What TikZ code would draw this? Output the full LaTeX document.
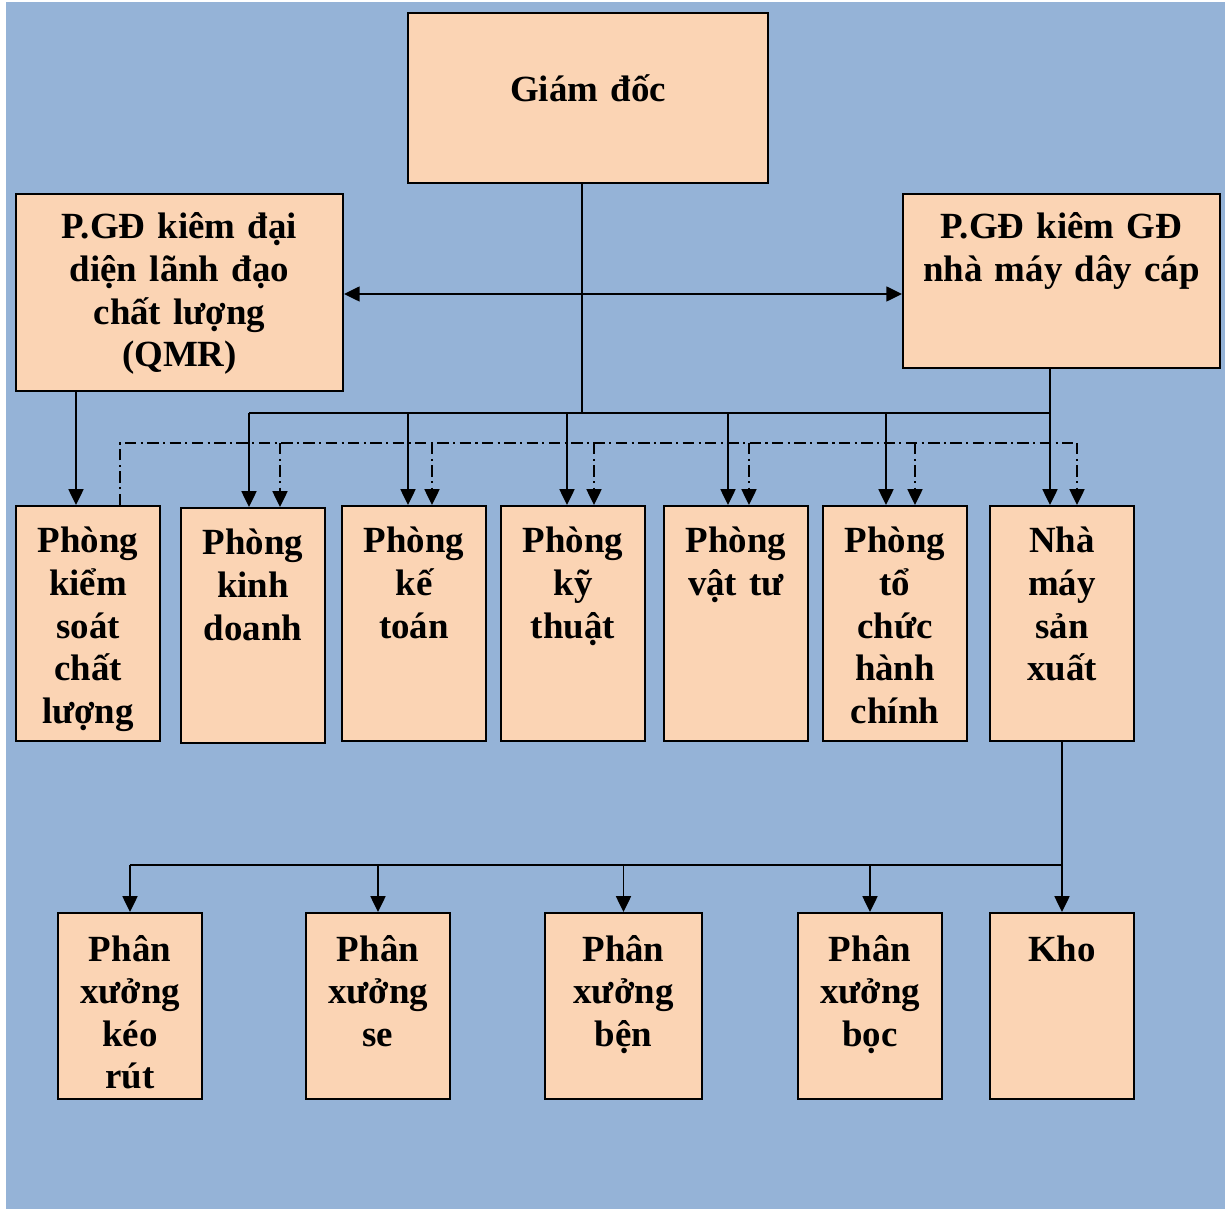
\documentclass[tikz,border=0pt]{standalone}
\usepackage{fontspec}
\setmainfont{Liberation Serif}
\usetikzlibrary{arrows.meta}
\definecolor{bgblue}{RGB}{149,179,215}
\definecolor{peach}{RGB}{251,212,180}

\begin{document}
\begin{tikzpicture}[x=0.02cm, y=-0.02cm,
    box/.style={draw, line width=1.1pt, fill=peach, inner sep=0pt, anchor=base, align=center,
        font=\bfseries\fontsize{21}{24.2}\selectfont},
    room/.style={box, text width=2.88cm, text height=0.94cm, text depth=3.76cm},
    shop/.style={box, text width=2.88cm, text height=0.96cm, text depth=2.76cm},
    link/.style={line width=1.1pt},
    tip/.style={-{Triangle[length=9pt, width=8.5pt]}},
    arr/.style={link, tip},
    dashdot/.style={line width=1.1pt, dash pattern=on 6.5pt off 2.5pt on 1.2pt off 2.5pt}]
    \useasboundingbox (0,0) rectangle (1225,1209);
    \fill[bgblue] (6,2) rectangle (1225,1209);

    % top level
    \node[box, text width=7.2cm, text height=1.78cm, text depth=1.62cm] (gd) at (588,102) {Giám đốc};
    \node[box, text width=6.54cm, text height=0.9cm, text depth=3.04cm] (qmr) at (179.5,239) {P.GĐ kiêm đại\\diện lãnh đạo\\chất lượng\\(QMR)};
    \node[box, text width=6.34cm, text height=0.9cm, text depth=2.58cm] (pgd) at (1061.5,239) {P.GĐ kiêm GĐ\\nhà máy dây cáp};

    % departments
    \node[room] (kscl) at (88,553) {Phòng\\kiểm\\soát\\chất\\lượng};
    \node[room] (kd) at (253,555) {Phòng\\kinh\\doanh};
    \node[room] (kt) at (414,553) {Phòng\\kế\\toán};
    \node[room] (kyt) at (573,553) {Phòng\\kỹ\\thuật};
    \node[room] (vt) at (736,553) {Phòng\\vật tư};
    \node[room] (tchc) at (895,553) {Phòng\\tổ\\chức\\hành\\chính};
    \node[room] (nm) at (1062,553) {Nhà\\máy\\sản\\xuất};

    % workshops
    \node[shop] (kr) at (130,961) {Phân\\xưởng\\kéo\\rút};
    \node[shop] (se) at (378,961) {Phân\\xưởng\\se};
    \node[shop, text width=3.14cm] (ben) at (623.5,961) {Phân\\xưởng\\bện};
    \node[shop] (boc) at (870,961) {Phân\\xưởng\\bọc};
    \node[shop] (kho) at (1062,961) {Kho};

    \coordinate (hl) at (600,294);
    \draw[link, {Triangle[length=9pt, width=8.5pt]}-{Triangle[length=9pt, width=8.5pt]}] (qmr.east |- hl) -- (pgd.west |- hl);

    \draw[link] (582,0 |- gd.south) -- (582,413);
    \draw[link] (1050,0 |- pgd.south) -- (1050,413) -- (249,413);
    \draw[arr] (76,0 |- qmr.south) -- (76,0 |- kscl.north);
    \draw[dashdot] (120,0 |- kscl.north) -- (120,443) -- (1077,443);
    \foreach \n/\s/\d in {kd/249/280, kt/408/432, kyt/567/594, vt/728/749, tchc/886/915, nm/1050/1077} {
        \draw[arr] (\s,413) -- (\s,0 |- \n.north);
        \draw[dashdot, tip] (\d,443) -- (\d,0 |- \n.north);
    }

    \draw[link] (nm.south) -- (nm.south |- 0,865) -- (kr.north |- 0,865);
    \foreach \n in {kr,se,ben,boc,kho}
        \draw[arr] (\n.north |- 0,865) -- (\n.north);
\end{tikzpicture}
\end{document}
